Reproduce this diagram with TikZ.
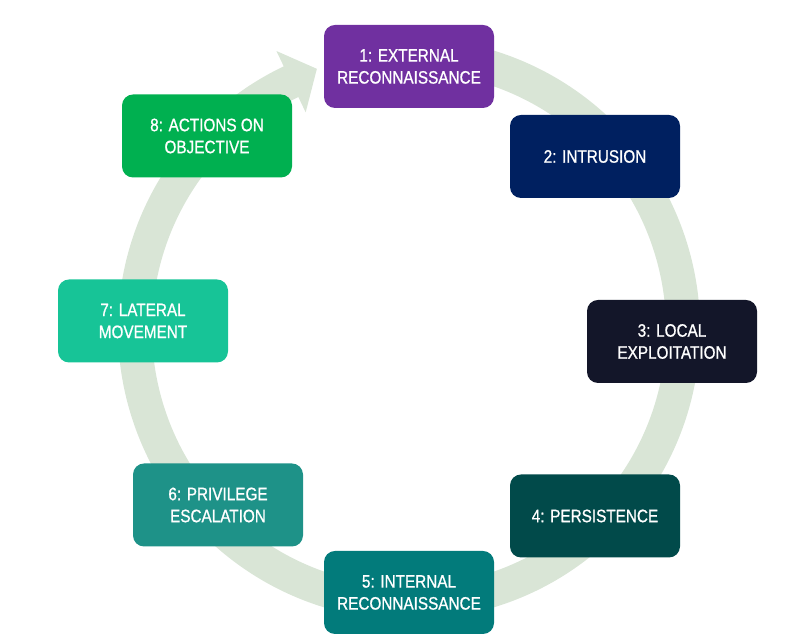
\documentclass[tikz,border=0pt]{standalone}
\usepackage{fontspec}
\newfontfamily\boxfont{Liberation Sans}[FakeStretch=0.85, UprightFont=*, FakeBold=0.9]
\definecolor{ringc}{HTML}{D9E5D6}
\definecolor{c1}{HTML}{7030A0}
\definecolor{c2}{HTML}{002060}
\definecolor{c3}{HTML}{131629}
\definecolor{c4}{HTML}{014A4A}
\definecolor{c5}{HTML}{027B7B}
\definecolor{c6}{HTML}{1E9288}
\definecolor{c7}{HTML}{17C497}
\definecolor{c8}{HTML}{00B050}
\begin{document}
\begin{tikzpicture}[x=1pt,y=1pt,
  stage/.style={rectangle, rounded corners=11pt, minimum width=170pt, minimum height=83pt,
    inner sep=0pt, text=white, align=center,
    font=\boxfont\fontsize{18}{22}\selectfont}]
\useasboundingbox (0,0) rectangle (796,644);
% ring arrow
\begin{scope}[shift={(409,315)}]
  \draw[ringc, line width=34pt, line cap=butt] (105:274) arc[start angle=105, end angle=-245, radius=274];
  \fill[ringc] (115.5:240) -- (109.5:276) -- (115.5:308) -- cycle;
\end{scope}
% stages
\node[stage, fill=c1] (s1) at (409,577.5) {1: EXTERNAL\\RECONNAISSANCE};
\node[stage, fill=c2] (s2) at (595,487.5) {2: INTRUSION};
\node[stage, fill=c3] (s3) at (672,302.5) {3: LOCAL\\EXPLOITATION};
\node[stage, fill=c4] (s4) at (595,128) {4: PERSISTENCE};
\node[stage, fill=c5] (s5) at (409,51.5) {5: INTERNAL\\RECONNAISSANCE};
\node[stage, fill=c6] (s6) at (218,139) {6: PRIVILEGE\\ESCALATION};
\node[stage, fill=c7] (s7) at (143,323) {7: LATERAL\\MOVEMENT};
\node[stage, fill=c8] (s8) at (207,508) {8: ACTIONS ON\\OBJECTIVE};
\end{tikzpicture}
\end{document}
